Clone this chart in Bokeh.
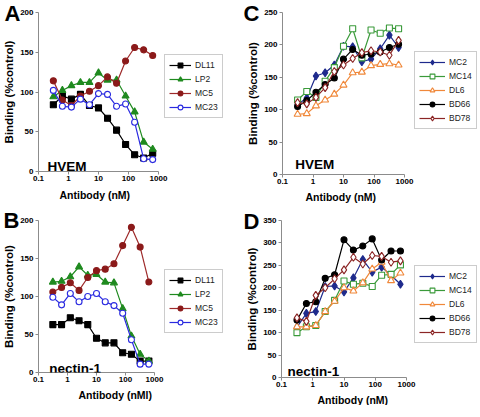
from bokeh.plotting import figure
from bokeh.models import (Range1d, FixedTicker, CustomJSTickFormatter, Legend,
                          LegendItem, Label, Title)
from bokeh.layouts import row, column
from bokeh.embed import file_html
from bokeh.resources import INLINE

# ---------------- data ----------------
conc = [0.3125, 0.625, 1.25, 2.5, 5, 10, 20, 40, 80, 160, 320, 640]
x_ticks = [0.1, 1, 10, 100, 1000]

# Panel A (HVEM)
a_names = ["DL11", "LP2", "MC5", "MC23"]
a_dl11 = [84, 95, 91, 97, 83, 80, 67, 52, 34, 21, 17, 23]
a_lp2 = [94, 102, 108, 112, 112, 124, 115, 115, 95, 75, 37, 28]
a_mc5 = [114, 90, 83, 95, 101, 108, 119, 111, 139, 156, 153, 146]
a_mc23 = [102, 82, 81, 91, 84, 98, 97, 82, 85, 62, 16, 15]

# Panel B (nectin-1)
b_names = ["DL11", "LP2", "MC5", "MC23"]
b_dl11 = [63, 63, 72, 68, 63, 45, 39, 39, 26, 24, 15, 15]
b_lp2 = [119, 120, 126, 139, 128, 129, 119, 118, 84, 48, 24, 15]
b_mc5 = [106, 112, 118, 108, 125, 134, 136, 143, 167, 191, 165, 119]
b_mc23 = [99, 89, 104, 93, 100, 104, 93, 88, 78, 43, 11, 11]

# Panel C (HVEM)
c_names = ["MC2", "MC14", "DL6", "BD66", "BD78"]
c_mc2 = [108, 118, 152, 157, 169, 198, 197, 174, 178, 194, 215, 196]
c_mc14 = [115, 128, 119, 144, 165, 198, 225, 180, 223, 218, 226, 225]
c_dl6 = [93, 94, 106, 115, 124, 138, 157, 158, 168, 170, 171, 169]
c_bd66 = [105, 114, 127, 139, 149, 178, 193, 184, 186, 189, 196, 201]
c_bd78 = [111, 109, 119, 134, 159, 169, 179, 188, 191, 189, 184, 207]

# Panel D (nectin-1)
d_names = ["MC2", "MC14", "DL6", "BD66", "BD78"]
d_mc2 = [112, 143, 147, 203, 204, 191, 222, 263, 235, 246, 228, 208]
d_mc14 = [100, 113, 116, 147, 172, 215, 208, 210, 203, 228, 230, 251]
d_dl6 = [113, 113, 116, 147, 170, 200, 193, 211, 242, 257, 216, 233]
d_bd66 = [128, 165, 169, 221, 229, 307, 284, 293, 309, 262, 282, 282]
d_bd78 = [133, 125, 183, 200, 220, 240, 268, 253, 272, 270, 257, 260]

# ---------------- styles ----------------
FONT = "Liberation Sans"
AXIS_GRAY = "#8c8c8c"
# name: (line color, marker, marker line color, fill color, size)
STYLE = {
    "DL11": ("black", "square", "black", "black", 6),
    "LP2": ("#1f8a1f", "triangle", "#1f8a1f", "#1f8a1f", 7),
    "MC5": ("#9e2a2a", "circle", "#8b1a1a", "#8b1a1a", 6),
    "MC23": ("#2a2ae0", "circle", "#2a2ae0", "white", 6),
    "MC2": ("#1e2a8c", "diamond", "#1e2a8c", "#1e2a8c", 8),
    "MC14": ("#3a9a3a", "square", "#3a9a3a", "white", 6),
    "DL6": ("#f0883a", "triangle", "#f0883a", "white", 7),
    "BD66": ("black", "circle", "black", "black", 6),
    "BD78": ("#8b2525", "diamond", "#8b2525", "white", 8),
}


def make_panel(bl, fw_data, fw_total, bt, fh, ymax, names, series,
               letter, letter_dx, letter_pull, name, name_dx, name_dy,
               xlabel, xlabel_dx, xlabel_standoff, leg_xy, leg_glyph_w):
    # frame extends right of the axis (axis bounded to 0.1..1000) to hold the legend
    x_end = 1000 * 10 ** (4.0 * (fw_total - fw_data) / fw_data)
    p = figure(frame_width=fw_total, frame_height=fh, x_axis_type="log",
               x_range=Range1d(0.1, x_end), y_range=Range1d(0, ymax),
               output_backend="svg", toolbar_location=None,
               min_border_left=bl, min_border_right=0,
               min_border_top=bt, min_border_bottom=0, title=letter)
    p.xgrid.visible = False
    p.ygrid.visible = False
    p.outline_line_color = None

    # panel letter as title, pulled down towards the frame
    p.title.align = "left"
    p.title.offset = letter_dx
    p.title.standoff = -letter_pull
    p.title.text_font = FONT
    p.title.text_font_style = "bold"
    p.title.text_font_size = "22px"
    p.title.text_color = "black"

    p.xaxis.ticker = FixedTicker(ticks=x_ticks, minor_ticks=[])
    p.xaxis.formatter = CustomJSTickFormatter(code="return tick.toString();")
    p.xaxis.bounds = (0.1, 1000)
    p.yaxis.ticker = FixedTicker(ticks=list(range(0, ymax + 1, 50)), minor_ticks=[])
    for ax in (p.xaxis[0], p.yaxis[0]):
        ax.axis_line_color = AXIS_GRAY
        ax.major_tick_line_color = AXIS_GRAY
        ax.minor_tick_line_color = None
        ax.major_tick_in = 0
        ax.major_tick_out = 3
        ax.major_label_standoff = 2
        ax.major_label_text_font = FONT
        ax.major_label_text_font_style = "bold"
        ax.major_label_text_font_size = "8px"
        ax.major_label_text_color = "black"
    p.xaxis.major_label_standoff = 1
    p.yaxis.axis_label = "Binding (%control)"
    p.yaxis.axis_label_text_font = FONT
    p.yaxis.axis_label_text_font_style = "bold"
    p.yaxis.axis_label_text_font_size = "11.5px"
    p.yaxis.axis_label_text_color = "black"
    p.yaxis.axis_label_standoff = 2

    # x-axis label centred under the bounded axis
    p.add_layout(Title(text=xlabel, align="left", offset=xlabel_dx,
                       standoff=xlabel_standoff, text_font=FONT,
                       text_font_style="bold", text_font_size="10.5px",
                       text_color="black"), "below")

    items = []
    for nm, ys in zip(names, series):
        lc, mk, mlc, fc, sz = STYLE[nm]
        lr = p.line(conc, ys, line_color=lc, line_width=1.2)
        sr = p.scatter(conc, ys, marker=mk, size=sz, line_color=mlc,
                       fill_color=fc, line_width=1.1)
        items.append(LegendItem(label=nm, renderers=[lr, sr]))

    leg = Legend(items=items, location=leg_xy)
    leg.margin = 0
    leg.padding = 4
    leg.spacing = 2
    leg.glyph_width = leg_glyph_w
    leg.glyph_height = 12
    leg.label_height = 12
    leg.label_standoff = 4
    leg.label_text_font = FONT
    leg.label_text_font_size = "8.5px"
    leg.label_text_color = "#222222"
    leg.border_line_color = "#999999"
    leg.border_line_width = 1
    leg.background_fill_color = "white"
    p.add_layout(leg, "center")

    p.add_layout(Label(x=name_dx, y=name_dy, x_units="screen", y_units="screen",
                       text=name, text_font=FONT, text_font_style="bold",
                       text_baseline="alphabetic",
                       text_font_size="13.5px", text_color="black"))
    return p


pA = make_panel(36, 120, 204, 12, 159, 200, a_names,
                [a_dl11, a_lp2, a_mc5, a_mc23], "A", -34, 26,
                "HVEM", 9, 4.7, "Antibody (nM)", 21, 7, (126, 53), 22)
pC = make_panel(40, 122, 200, 12, 162, 250, c_names,
                [c_mc2, c_mc14, c_dl6, c_bd66, c_bd78], "C", -39, 26,
                "HVEM", 12.7, 10, "Antibody (nM)", 23, 4, (132, 45), 26)
pB = make_panel(36, 116, 204, 16, 152, 200, b_names,
                [b_dl11, b_lp2, b_mc5, b_mc23], "B", -35, 25,
                "nectin-1", 10.7, 4.3, "Antibody (nMl)", 40, 4, (126, 39), 22)
pD = make_panel(39, 125, 201, 14, 157, 350, d_names,
                [d_mc2, d_mc14, d_dl6, d_bd66, d_bd78], "D", -38, 26,
                "nectin-1", 6, 5.7, "Antibody (nM)", 36, 4, (133, 34), 26)

layout = column(row(pA, pC), row(pB, pD))
open("out.html", "w").write(file_html(layout, INLINE))
